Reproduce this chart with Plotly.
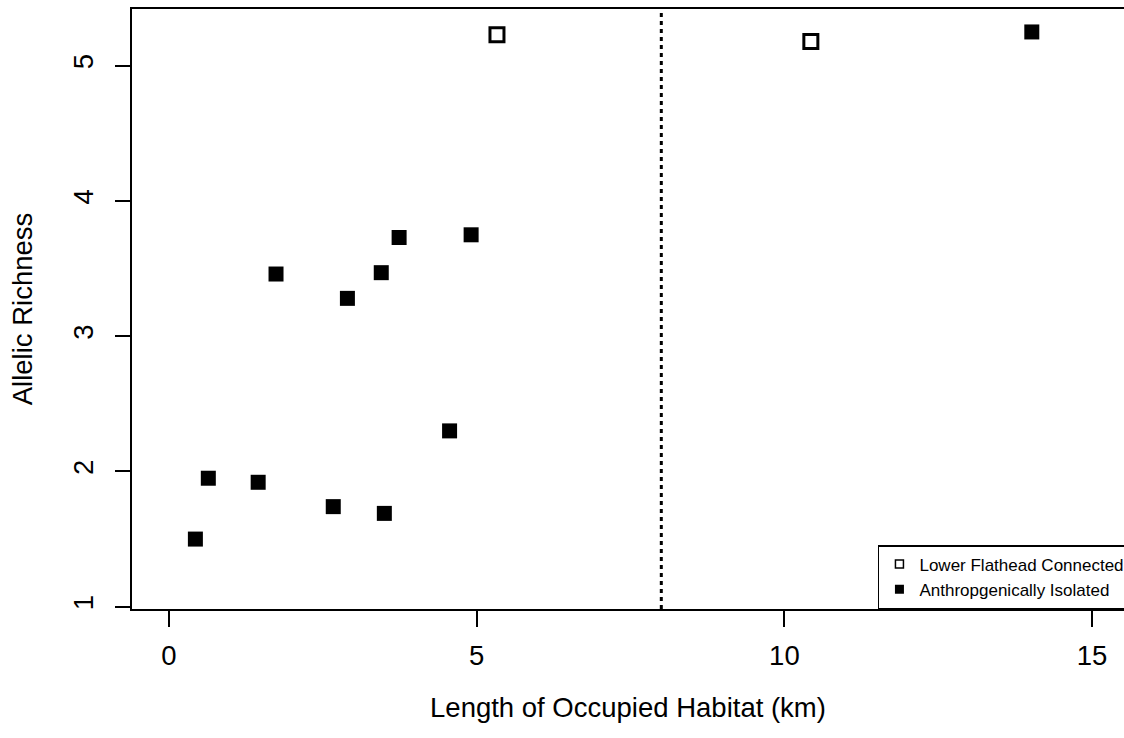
import plotly.graph_objects as go

# Sites connected to the lower Flathead system
connected_km = [5.33, 10.43]
connected_ar = [5.23, 5.18]

# Anthropogenically isolated sites
isolated_km = [0.43, 0.64, 1.45, 2.67, 3.50, 4.56, 1.74, 2.90, 3.45, 3.74, 4.91, 14.02]
isolated_ar = [1.50, 1.95, 1.92, 1.74, 1.69, 2.30, 3.46, 3.28, 3.47, 3.73, 3.75, 5.25]

x_ticks = [0, 5, 10, 15]
y_ticks = [1, 2, 3, 4, 5]
threshold_km = 8

FONT = "Liberation Sans, Arial, Helvetica, sans-serif"

fig = go.Figure()

fig.add_trace(go.Scatter(
    x=connected_km, y=connected_ar, mode="markers", showlegend=False,
    marker=dict(symbol="square-open", size=14, color="black",
                line=dict(color="black", width=3)),
))
fig.add_trace(go.Scatter(
    x=isolated_km, y=isolated_ar, mode="markers", showlegend=False,
    marker=dict(symbol="square", size=15, color="black", line=dict(width=0)),
))

# Small legend keys
fig.add_trace(go.Scatter(
    x=[None], y=[None], mode="markers", name="Lower Flathead Connected",
    marker=dict(symbol="square-open", size=8, color="black",
                line=dict(color="black", width=1.5)),
))
fig.add_trace(go.Scatter(
    x=[None], y=[None], mode="markers", name="Anthropgenically Isolated",
    marker=dict(symbol="square", size=9, color="black", line=dict(width=0)),
))

fig.add_shape(type="line", xref="x", yref="paper",
              x0=threshold_km, x1=threshold_km, y0=0, y1=1,
              line=dict(color="black", width=3, dash="4px,4px"))

fig.update_layout(
    width=1124, height=738,
    margin=dict(l=132, r=0, t=8.5, b=129, autoexpand=False),
    paper_bgcolor="white", plot_bgcolor="white",
    font=dict(family=FONT, color="black", size=27.5),
    legend=dict(
        x=1.007, y=0, xanchor="right", yanchor="bottom",
        bordercolor="black", borderwidth=1.5, bgcolor="white",
        font=dict(size=17), tracegroupgap=0, itemwidth=30,
    ),
    xaxis=dict(
        range=[-0.60, 15.518], tickmode="array", tickvals=x_ticks,
        showgrid=False, zeroline=False,
        showline=True, mirror=True, linecolor="black", linewidth=1.6,
        ticks="outside", ticklen=16, tickwidth=1.6, tickcolor="black",
        ticklabelstandoff=5,
        title=dict(text="Length of Occupied Habitat (km)", standoff=28,
                   font=dict(size=27.5)),
    ),
    yaxis=dict(
        range=[0.983, 5.4197], tickmode="array", tickvals=y_ticks,
        showgrid=False, zeroline=False,
        showline=True, linecolor="black", linewidth=1.6,
        ticks="outside", ticklen=15, tickwidth=1.6, tickcolor="black",
        tickangle=-90, ticklabelstandoff=11,
        title=dict(text="Allelic Richness", standoff=28, font=dict(size=27.5)),
    ),
)

fig.write_html("out.html", config={"displayModeBar": False})
